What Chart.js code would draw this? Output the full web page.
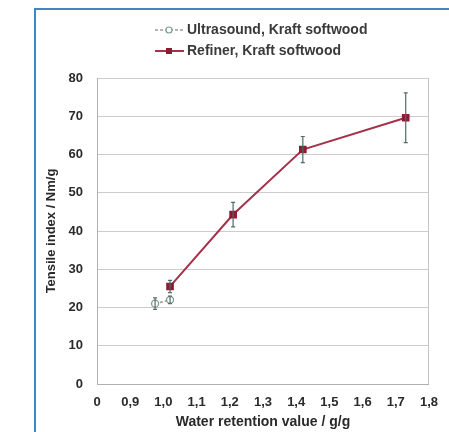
<!DOCTYPE html>
<html>
<head>
<meta charset="utf-8">
<script src="https://cdn.jsdelivr.net/npm/chart.js@4/dist/chart.umd.min.js"></script>
<style>
  html, body { margin: 0; padding: 0; background: #fff; }
  #wrap { position: relative; width: 449px; height: 432px; overflow: hidden; }
  #frame { position: absolute; left: 34px; top: 8px; width: 440px; height: 440px; border: 2px solid #3f86c4; }
  canvas { position: absolute; left: 0; top: 0; }
</style>
</head>
<body>
<div id="wrap">
  <div id="frame"></div>
  <canvas id="myChart" width="449" height="432"></canvas>
</div>
<script>
// values
const ultrasoundX = [0.975, 1.02];
const ultrasoundY = [21, 22];
const ultrasoundErr = [1.5, 1];

const refinerX = [1.02, 1.21, 1.42, 1.73];
const refinerY = [25.5, 44.3, 61.3, 69.6];
const refinerErr = [1.6, 3.2, 3.4, 6.5];

const xTicks = [0.8, 0.9, 1.0, 1.1, 1.2, 1.3, 1.4, 1.5, 1.6, 1.7, 1.8];
const yTicks = [0, 10, 20, 30, 40, 50, 60, 70, 80];

const seriesNames = ['Ultrasound, Kraft softwood', 'Refiner, Kraft softwood'];
const xTitle = 'Water retention value / g/g';
const yTitle = 'Tensile index / Nm/g';

const FONT = "'Liberation Sans', Arial, sans-serif";

const toPoints = (xs, ys) => xs.map((x, i) => ({ x, y: ys[i] }));

// vertical error bars
const errorBars = {
  id: 'errorBars',
  afterDatasetsDraw(chart) {
    const { ctx, scales: { x, y } } = chart;
    chart.data.datasets.forEach((ds) => {
      if (!ds.err) return;
      ds.data.forEach((p, i) => {
        const px = x.getPixelForValue(p.x);
        const top = y.getPixelForValue(p.y + ds.err[i]);
        const bot = y.getPixelForValue(p.y - ds.err[i]);
        ctx.save();
        ctx.strokeStyle = ds.errColor;
        ctx.lineWidth = 1.2;
        ctx.beginPath();
        ctx.moveTo(px, top); ctx.lineTo(px, bot);
        ctx.moveTo(px - 2, top); ctx.lineTo(px + 2, top);
        ctx.moveTo(px - 2, bot); ctx.lineTo(px + 2, bot);
        ctx.stroke();
        ctx.restore();
      });
    });
  },
};

// two-row legend above the plot
const stackedLegend = {
  id: 'stackedLegend',
  afterDraw(chart) {
    const { ctx } = chart;
    chart.data.datasets.forEach((ds, i) => {
      const yy = 30 + i * 21;
      ctx.save();
      ctx.strokeStyle = ds.borderColor;
      ctx.lineWidth = ds.borderWidth;
      ctx.setLineDash(ds.borderDash || []);
      ctx.beginPath();
      ctx.moveTo(155, yy); ctx.lineTo(184, yy);
      ctx.stroke();
      ctx.setLineDash([]);
      ctx.fillStyle = ds.pointBackgroundColor;
      ctx.strokeStyle = ds.pointBorderColor;
      ctx.lineWidth = 1.2;
      if (ds.pointStyle === 'rect') {
        ctx.fillRect(166, yy - 3, 6, 6);
      } else {
        ctx.beginPath();
        ctx.arc(169, yy, 3, 0, Math.PI * 2);
        ctx.fill(); ctx.stroke();
      }
      ctx.fillStyle = '#3a3a3a';
      ctx.font = 'bold 14px ' + FONT;
      ctx.textBaseline = 'middle';
      ctx.fillText(ds.label, 187, yy);
      ctx.restore();
    });
  },
};

const ctx = document.getElementById('myChart').getContext('2d');
const chart = new Chart(ctx, {
  type: 'line',
  data: {
    datasets: [
      {
        label: seriesNames[0],
        data: toPoints(ultrasoundX, ultrasoundY),
        err: ultrasoundErr,
        errColor: '#5a6a66',
        borderColor: '#9a9a9a',
        borderWidth: 1.5,
        borderDash: [3, 2],
        pointStyle: 'circle',
        pointRadius: 3.5,
        pointBackgroundColor: '#ffffff',
        pointBorderColor: '#7d9a92',
        pointBorderWidth: 1.3,
        tension: 0,
      },
      {
        label: seriesNames[1],
        data: toPoints(refinerX, refinerY),
        err: refinerErr,
        errColor: '#4f6b63',
        borderColor: '#a3324a',
        borderWidth: 2,
        pointStyle: 'rect',
        pointRadius: 4,
        pointBackgroundColor: '#8e1a33',
        pointBorderColor: '#8e1a33',
        tension: 0,
      },
    ],
  },
  options: {
    responsive: false,
    animation: false,
    layout: { padding: { left: 37, right: 11, top: 78, bottom: 0 } },
    plugins: { legend: { display: false }, tooltip: { enabled: false } },
    scales: {
      x: {
        type: 'linear',
        min: 0.8,
        max: 1.8,
        afterBuildTicks: (axis) => { axis.ticks = xTicks.map((v) => ({ value: v })); },
        afterFit: (axis) => { axis.height = 48; },
        ticks: {
          padding: 11,
          color: '#2a2a2a',
          font: { family: FONT, size: 13, weight: 'bold' },
          callback: (v) => (v < 0.85 ? '0' : v.toFixed(1).replace('.', ',')),
        },
        grid: {
          drawTicks: false,
          color: (c) => (c.tick && c.tick.value > 1.75 ? '#c4c4c4' : 'rgba(0,0,0,0)'),
        },
        border: { color: '#b0b0b0' },
        title: {
          display: true,
          text: xTitle,
          color: '#2a2a2a',
          font: { family: FONT, size: 14, weight: 'bold' },
          padding: { top: 0, bottom: 1 },
        },
      },
      y: {
        min: 0,
        max: 80,
        afterBuildTicks: (axis) => { axis.ticks = yTicks.map((v) => ({ value: v })); },
        afterFit: (axis) => { axis.width = 60; },
        ticks: {
          padding: 14,
          color: '#2a2a2a',
          font: { family: FONT, size: 13, weight: 'bold' },
        },
        grid: { drawTicks: false, color: '#cccccc' },
        border: { color: '#b0b0b0' },
        title: {
          display: true,
          text: yTitle,
          color: '#2a2a2a',
          font: { family: FONT, size: 13, weight: 'bold' },
          padding: { top: 7, bottom: 0 },
        },
      },
    },
  },
  plugins: [errorBars, stackedLegend],
});
</script>
</body>
</html>
